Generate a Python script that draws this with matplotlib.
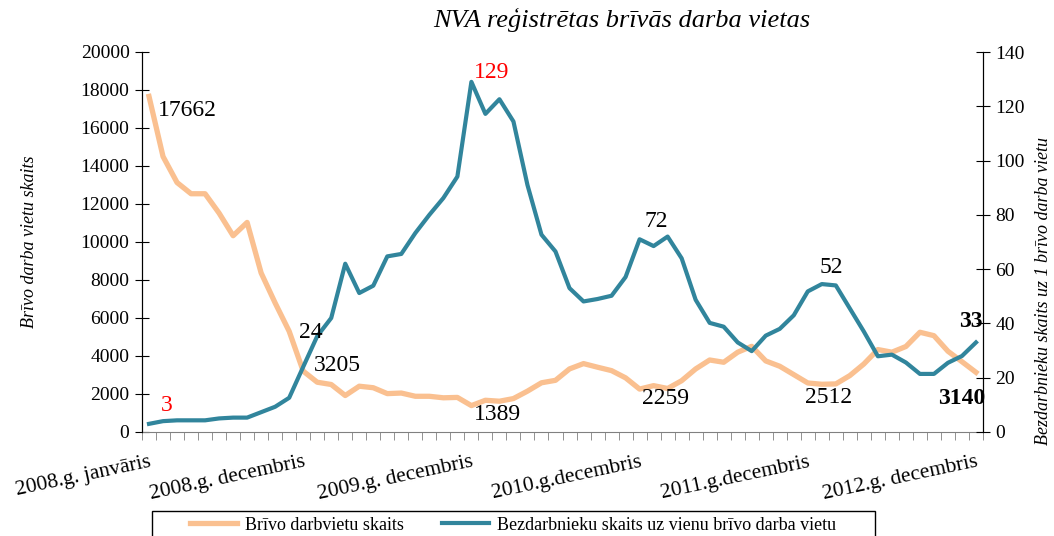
import matplotlib
matplotlib.use("Agg")
import matplotlib.pyplot as plt
from matplotlib.patches import Rectangle

plt.rcParams['font.family'] = ['Liberation Serif', 'DejaVu Serif']

# monthly data, 2008 Jan .. 2012 Dec
months = list(range(60))
tick_pos = [0, 11, 23, 35, 47, 59]
tick_labels = ["2008.g. janvāris", "2008.g. decembris", "2009.g. decembris",
               "2010.g.decembris", "2011.g.decembris", "2012.g. decembris"]

vacancies = [17662, 14500, 13130, 12540, 12540, 11520, 10330, 11030, 8370, 6790,
             5300, 3205, 2620, 2500, 1920, 2410, 2330, 2020, 2050, 1880,
             1880, 1800, 1820, 1389, 1670, 1620, 1760, 2150, 2590, 2720,
             3320, 3600, 3410, 3230, 2850, 2259, 2440, 2290, 2700, 3320,
             3790, 3670, 4200, 4510, 3740, 3460, 3020, 2580, 2512, 2530,
             2970, 3580, 4340, 4200, 4500, 5250, 5070, 4250, 3700, 3140]

ratio = [3, 4, 4.3, 4.3, 4.3, 5, 5.3, 5.3, 7.3, 9.3,
         12.6, 24, 35.3, 42, 62, 51.2, 53.9, 64.7, 65.6, 73.3,
         80, 86.2, 94.1, 129, 117.2, 122.6, 114.4, 91, 72.7, 66.5,
         53, 48.1, 49, 50.2, 57.1, 71, 68.5, 72, 64, 48.7,
         40.2, 38.8, 33, 29.8, 35.5, 38, 43, 51.8, 54.5, 54,
         45.5, 37, 27.9, 28.5, 25.6, 21.4, 21.4, 25.5, 28, 33]

vac_label_idx = [0, 11, 23, 35, 48, 59]
vac_label_text = ["17662", "3205", "1389", "2259", "2512", "3140"]
ratio_label_idx = [0, 11, 23, 37, 48, 59]
ratio_label_text = ["3", "24", "129", "72", "52", "33"]

ORANGE = '#FAC090'
BLUE = '#31859C'

fig = plt.figure(figsize=(10.54, 5.36), dpi=100)
ax = fig.add_axes([142/1054, 104/536, 841/1054, 380/536])
ax2 = ax.twinx()

l1, = ax.plot(months, vacancies, color=ORANGE, lw=3.8, solid_joinstyle='round',
              label='Brīvo darbvietu skaits')
l2, = ax2.plot(months, ratio, color=BLUE, lw=3.0, solid_joinstyle='round',
               label='Bezdarbnieku skaits uz vienu brīvo darba vietu')

ax.set_xlim(-0.5, 59.5)
ax.set_ylim(0, 20000)
ax2.set_ylim(0, 140)
ax.set_yticks(range(0, 20001, 2000))
ax2.set_yticks(range(0, 141, 20))

ax.set_xticks(tick_pos)
ax.set_xticklabels(tick_labels, rotation=12, ha='right', rotation_mode='anchor', fontsize=15.5)
ax.set_xticks([k - 0.5 for k in range(61)], minor=True)
ax.tick_params(axis='x', which='major', length=0, pad=15)
ax.tick_params(axis='x', which='minor', length=6, direction='out', color='#808080')
ax.tick_params(axis='y', direction='inout', length=10, labelsize=14, pad=4)
ax2.tick_params(axis='y', direction='inout', length=10, labelsize=14, pad=4)

for a in (ax, ax2):
    a.spines['top'].set_visible(False)
ax.spines['bottom'].set_color('#808080')
ax2.spines['bottom'].set_visible(False)

ax.set_ylabel('Brīvo darba vietu skaits', fontsize=13, style='italic')
ax.yaxis.set_label_coords(-0.124, 0.5)
ax2.set_ylabel('Bezdarbnieku skaits uz 1 brīvo darba vietu', fontsize=13, style='italic')
ax2.yaxis.set_label_coords(1.062, 0.37)

fig.text(0.59, 0.962, 'NVA reģistrētas brīvās darba vietas', fontsize=19,
         style='italic', ha='center', va='center')

# data labels
vac_styles = [
    dict(off=(6.5, -10), ha='left'),
    dict(off=(8, 4), ha='left'),
    dict(off=(2, -6.5), ha='left'),
    dict(off=(2, -6.5), ha='left'),
    dict(off=(5, -9.5), ha='center'),
    dict(off=(6.5, -19), ha='right', weight='bold'),
]
for i, txt, st in zip(vac_label_idx, vac_label_text, vac_styles):
    ax.annotate(txt, (i, vacancies[i]), xytext=st['off'], textcoords='offset points',
                ha=st['ha'], va='center', fontsize=17,
                fontweight=st.get('weight', 'normal'), zorder=5)

ratio_styles = [
    dict(off=(13, 13), ha='center', color='red'),
    dict(off=(-3, 24.5), ha='left'),
    dict(off=(2, 6.5), ha='left', color='red'),
    dict(off=(-8, 11), ha='center'),
    dict(off=(7, 12), ha='center'),
    dict(off=(5, 15), ha='right', weight='bold'),
]
for i, txt, st in zip(ratio_label_idx, ratio_label_text, ratio_styles):
    ax2.annotate(txt, (i, ratio[i]), xytext=st['off'], textcoords='offset points',
                 ha=st['ha'], va='center', fontsize=17, color=st.get('color', 'black'),
                 fontweight=st.get('weight', 'normal'), zorder=5)

# legend frame (cut off by the bottom of the picture, as in the original)
fig.patches.append(Rectangle((152/1054, -0.05), 723/1054, 25/536 + 0.05,
                             transform=fig.transFigure, fill=False,
                             edgecolor='black', lw=1.0))
fig.legend([l1, l2], [l1.get_label(), l2.get_label()], ncol=2, frameon=False,
           loc='center left', bbox_to_anchor=(190/1054, 11/536), borderpad=0,
           borderaxespad=0, fontsize=13, handlelength=2.6, handletextpad=0.45,
           columnspacing=2.1)

fig.savefig('out.png', dpi=100)
